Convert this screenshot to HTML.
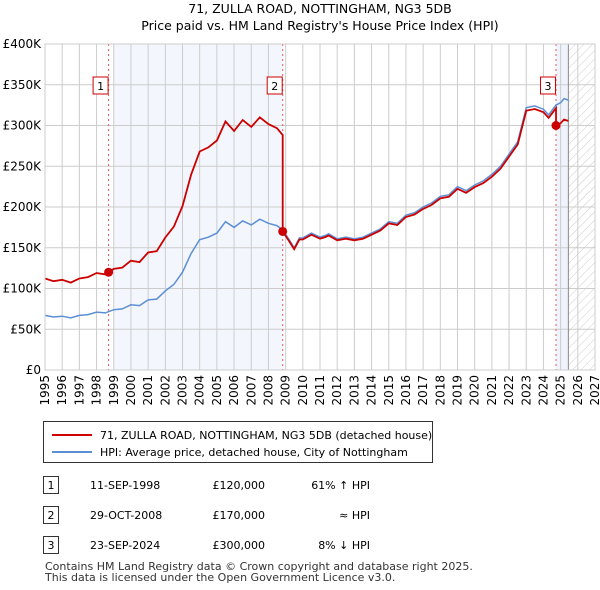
<!DOCTYPE html>
<html><head><meta charset="utf-8"><style>
body{margin:0;background:#fff;font-family:"Liberation Sans","DejaVu Sans",sans-serif;}
#root{position:relative;width:600px;height:590px;overflow:hidden;}
</style></head><body><div id="root">
<svg id="chart" width="600" height="590" xmlns="http://www.w3.org/2000/svg" font-family="DejaVu Sans, Liberation Sans, sans-serif">
<defs><pattern id="hatch" width="6" height="6" patternUnits="userSpaceOnUse" patternTransform="rotate(45)"><line x1="0" y1="0" x2="0" y2="6" stroke="#ccc" stroke-width="1"/></pattern></defs>
<text x="320" y="13" text-anchor="middle" font-size="12.5">71, ZULLA ROAD, NOTTINGHAM, NG3 5DB</text>
<text x="320" y="30" text-anchor="middle" font-size="12.5">Price paid vs. HM Land Registry's House Price Index (HPI)</text>
<g id="plot"></g>
<g>
<rect x="43.5" y="421.5" width="389" height="41" fill="#fff" stroke="#333"/>
<line x1="52" y1="435" x2="92" y2="435" stroke="#cc0000" stroke-width="2"/>
<text x="100" y="439" font-size="11">71, ZULLA ROAD, NOTTINGHAM, NG3 5DB (detached house)</text>
<line x1="52" y1="452" x2="92" y2="452" stroke="#5b8fd6" stroke-width="2"/>
<text x="100" y="456" font-size="11">HPI: Average price, detached house, City of Nottingham</text>
</g>
<g font-size="11">
<rect x="43.5" y="476.5" width="15" height="17" fill="#fff" stroke="#333"/><text x="51" y="489" text-anchor="middle">1</text>
<text x="90" y="489">11-SEP-1998</text><text x="265" y="489" text-anchor="end">£120,000</text><text x="370" y="489" text-anchor="end">61% ↑ HPI</text>
<rect x="43.5" y="506.5" width="15" height="17" fill="#fff" stroke="#333"/><text x="51" y="519" text-anchor="middle">2</text>
<text x="90" y="519">29-OCT-2008</text><text x="265" y="519" text-anchor="end">£170,000</text><text x="370" y="519" text-anchor="end">≈ HPI</text>
<rect x="43.5" y="536.5" width="15" height="17" fill="#fff" stroke="#333"/><text x="51" y="549" text-anchor="middle">3</text>
<text x="90" y="549">23-SEP-2024</text><text x="265" y="549" text-anchor="end">£300,000</text><text x="370" y="549" text-anchor="end">8% ↓ HPI</text>
</g>
<text x="45" y="570" font-size="11" fill="#333">Contains HM Land Registry data © Crown copyright and database right 2025.</text>
<text x="45" y="581" font-size="11" fill="#333">This data is licensed under the Open Government Licence v3.0.</text>
</svg>
<script>
const hpiYears=[1995,1995.5,1996,1996.5,1997,1997.5,1998,1998.5,1999,1999.5,2000,2000.5,2001,2001.5,2002,2002.5,2003,2003.5,2004,2004.5,2005,2005.5,2006,2006.5,2007,2007.5,2008,2008.5,2008.83,2009.2,2009.5,2009.8,2010,2010.5,2011,2011.3,2011.5,2012,2012.5,2013,2013.5,2014,2014.5,2015,2015.5,2016,2016.5,2017,2017.5,2018,2018.5,2019,2019.5,2020,2020.5,2021,2021.5,2022,2022.5,2023,2023.5,2024,2024.3,2024.73,2025,2025.2,2025.45];
const hpiValues=[67,65,66,64,67,68,71,70,74,75,80,79,86,87,97,105,120,143,160,163,168,182,175,183,178,185,180,177,172,160,150,162,162,168,163,165,167,161,163,161,163,168,173,182,180,190,193,200,205,213,215,225,220,227,232,240,250,265,280,322,324,320,313,325,328,333,331];
const saleYears=[1998.7,2008.83,2024.73];
const salePrices=[120,170,300];
const yTicks=[0,50,100,150,200,250,300,350,400];
const yTickLabels=["£0","£50K","£100K","£150K","£200K","£250K","£300K","£350K","£400K"];
const xTicks=[1995,1996,1997,1998,1999,2000,2001,2002,2003,2004,2005,2006,2007,2008,2009,2010,2011,2012,2013,2014,2015,2016,2017,2018,2019,2020,2021,2022,2023,2024,2025,2026,2027];
const dataEnd=2025.45;

const X0=45,X1=595,Y0=370,Y1=44;
const xs=y=>X0+(y-1995)/(2027-1995)*(X1-X0);
const ys=v=>Y0-v/400*(Y0-Y1);
const NS='http://www.w3.org/2000/svg';
const g=document.getElementById('plot');
function el(t,a){const e=document.createElementNS(NS,t);for(const k in a)e.setAttribute(k,a[k]);g.appendChild(e);return e;}
function hpiAt(y){for(let i=1;i<hpiYears.length;i++){if(y<=hpiYears[i]){const f=(y-hpiYears[i-1])/(hpiYears[i]-hpiYears[i-1]);return hpiValues[i-1]+f*(hpiValues[i]-hpiValues[i-1]);}}return hpiValues[hpiValues.length-1];}
let e;
e=el('rect',{x:xs(saleYears[0])+5,y:Y1,width:xs(saleYears[1])-xs(saleYears[0])-5,height:Y0-Y1,fill:'#eef3fc',opacity:0.7});


e=el('rect',{x:xs(saleYears[2]),y:Y1,width:xs(dataEnd)-xs(saleYears[2]),height:Y0-Y1,fill:'#eef3fc'});


e=el('rect',{x:xs(dataEnd),y:Y1,width:X1-xs(dataEnd),height:Y0-Y1,fill:'url(#hatch)'});


xTicks.forEach(t=>{const x=xs(t);e=el('line',{x1:x,x2:x,y1:Y1,y2:Y0,stroke:'#ccc'});


e=el('text',{x:0,y:0,transform:`translate(${x+4},${Y0+5}) rotate(-90)`,'text-anchor':'end','font-size':12});e.textContent=t;

});
yTicks.forEach((t,i)=>{const y=ys(t);e=el('line',{x1:X0,x2:X1,y1:y,y2:y,stroke:'#ccc'});


e=el('text',{x:X0-4,y:y+4,'text-anchor':'end','font-size':12});e.textContent=yTickLabels[i];

});
e=el('line',{x1:xs(dataEnd),x2:xs(dataEnd),y1:Y1,y2:Y0,stroke:'#888'});


saleYears.forEach((s,i)=>{e=el('line',{x1:xs(s),x2:xs(s),y1:Y1,y2:Y0,stroke:'#e55','stroke-dasharray':'2,3'});

});
let hp='';hpiYears.forEach((y,i)=>{hp+=(i?'L':'M')+xs(y).toFixed(1)+','+ys(hpiValues[i]).toFixed(1);});
e=el('path',{d:hp,fill:'none',stroke:'#5b8fd6','stroke-width':1.5});


function ratioAt(y){let k=0;for(let i=0;i<saleYears.length;i++)if(y>=saleYears[i]-1e-6)k=i;return salePrices[k]/hpiAt(saleYears[k]);}
const pts=[...hpiYears,...saleYears,...saleYears.map(s=>s-0.001)].sort((a,b)=>a-b);
let rp='';pts.forEach((y,i)=>{rp+=(i?'L':'M')+xs(y).toFixed(1)+','+ys(hpiAt(y)*ratioAt(y)).toFixed(1);});
e=el('path',{d:rp,fill:'none',stroke:'#cc0000','stroke-width':1.8});


saleYears.forEach((s,i)=>{e=el('circle',{cx:xs(s),cy:ys(salePrices[i]),r:4.5,fill:'#cc0000'});


const bx=xs(s)-15.5;e=el('rect',{x:bx,y:77,width:15,height:17,fill:'#fff',stroke:'#cc0000'});


e=el('text',{x:bx+7.5,y:90,'text-anchor':'middle','font-size':11});e.textContent=i+1;

});
e=el('rect',{x:X0,y:Y1,width:X1-X0,height:Y0-Y1,fill:'none',stroke:'#ccc'});


</script></div></body></html>
